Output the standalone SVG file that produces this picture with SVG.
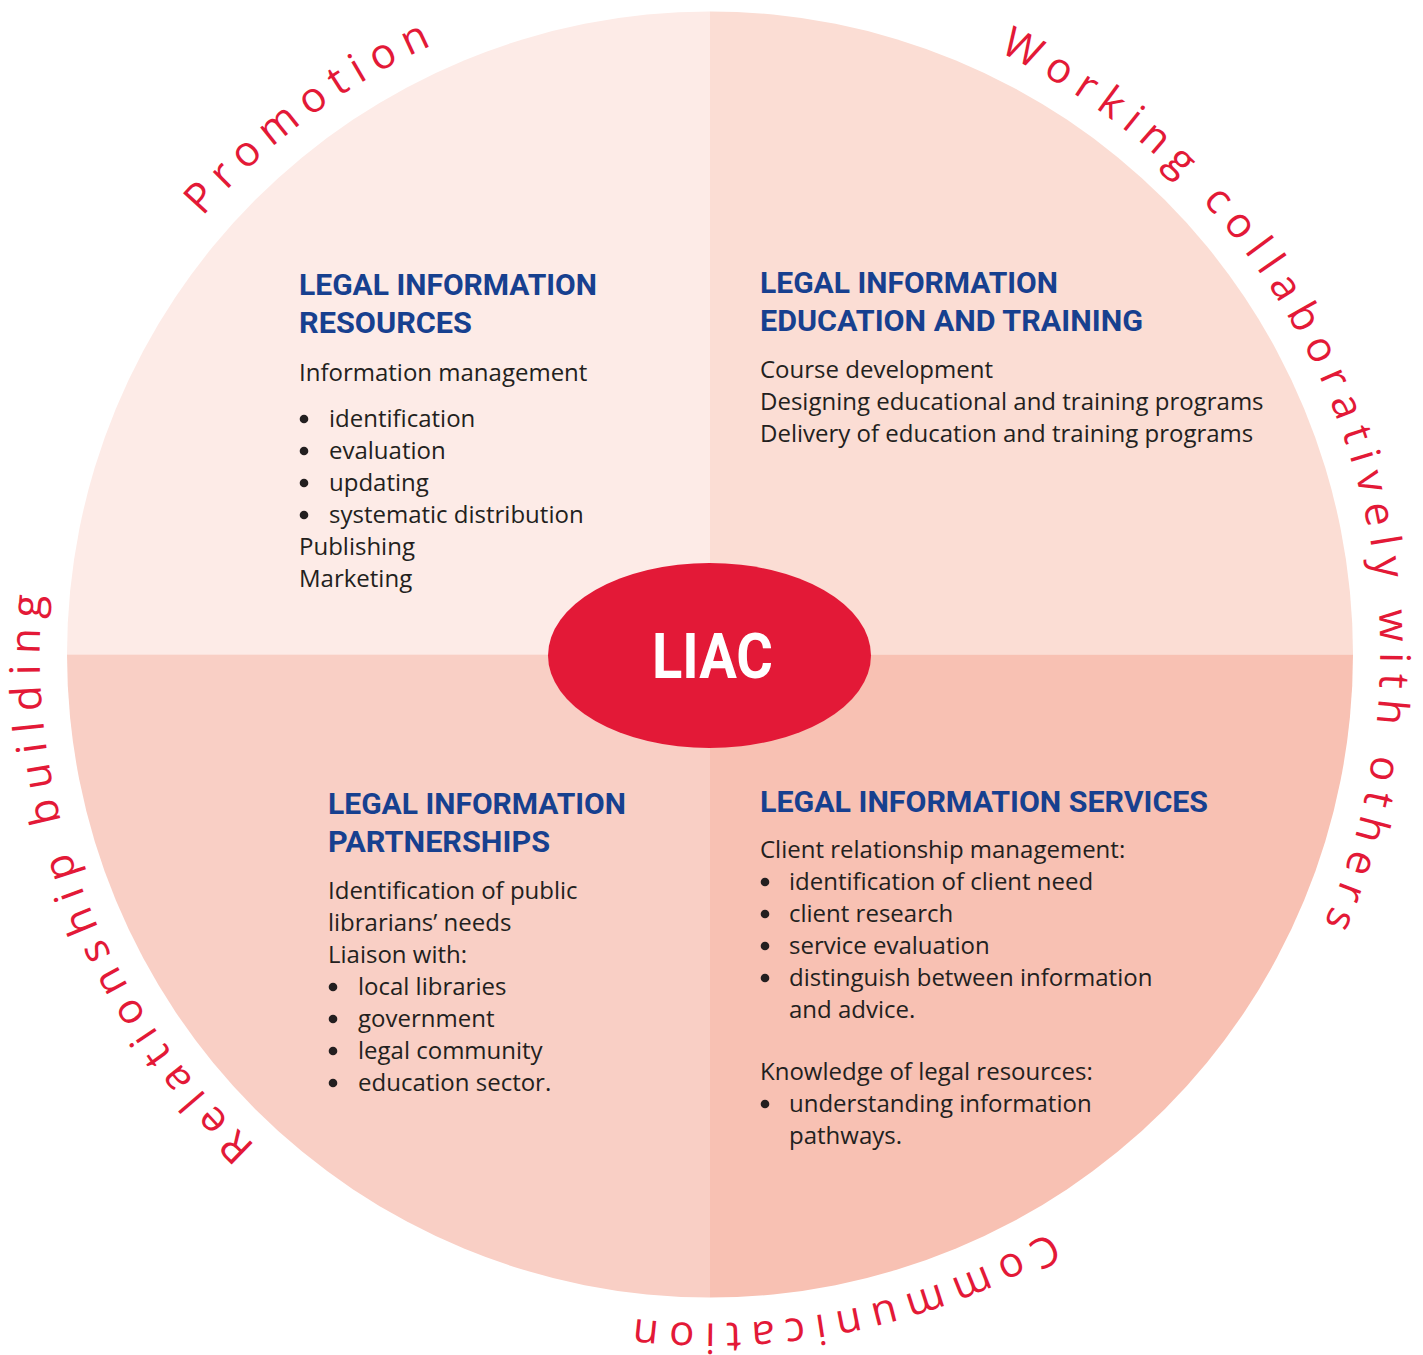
<svg xmlns="http://www.w3.org/2000/svg" width="1423" height="1355" viewBox="0 0 1423 1355">
<style>
.h{font-family:Roboto,"Liberation Sans",sans-serif;font-weight:700;font-size:30px;fill:#17408f}
.b{font-family:"Open Sans","Noto Sans",sans-serif;font-size:24px;fill:#231f20}
.d{fill:#231f20}
.arc{font-family:"Open Sans","Noto Sans",sans-serif;font-size:42px;fill:#e31937;letter-spacing:10px}
</style>
<defs>
<path id="ring" d="M481.53,1282.21 A668,668 0 1 1 938.47,26.79 A668,668 0 1 1 481.53,1282.21"/>
</defs>
<rect width="1423" height="1355" fill="#ffffff"/>
<g id="connectors"/>
<g id="resources">
<path d="M710,654.5 L67,654.5 A643,643 0 0 1 710,11.5 Z" fill="#fdebe7"/>
<text class="h" x="299" y="295" textLength="298" lengthAdjust="spacingAndGlyphs">LEGAL INFORMATION</text>
<text class="h" x="299" y="333" textLength="173" lengthAdjust="spacingAndGlyphs">RESOURCES</text>
<text class="b" x="299" y="381">Information management</text>
<circle class="d" cx="304" cy="419" r="4.3"/><text class="b" x="329" y="427">identification</text>
<circle class="d" cx="304" cy="451" r="4.3"/><text class="b" x="329" y="459">evaluation</text>
<circle class="d" cx="304" cy="483" r="4.3"/><text class="b" x="329" y="491">updating</text>
<circle class="d" cx="304" cy="515" r="4.3"/><text class="b" x="329" y="523">systematic distribution</text>
<text class="b" x="299" y="555">Publishing</text>
<text class="b" x="299" y="587">Marketing</text>
</g>
<g id="education">
<path d="M710,654.5 L710,11.5 A643,643 0 0 1 1353,654.5 Z" fill="#fbddd4"/>
<text class="h" x="760" y="293" textLength="298" lengthAdjust="spacingAndGlyphs">LEGAL INFORMATION</text>
<text class="h" x="760" y="331" textLength="383" lengthAdjust="spacingAndGlyphs">EDUCATION AND TRAINING</text>
<text class="b" x="760" y="378">Course development</text>
<text class="b" x="760" y="410">Designing educational and training programs</text>
<text class="b" x="760" y="442">Delivery of education and training programs</text>
</g>
<g id="services">
<path d="M710,654.5 L1353,654.5 A643,643 0 0 1 710,1297.5 Z" fill="#f8c1b3"/>
<text class="h" x="760" y="812" textLength="448" lengthAdjust="spacingAndGlyphs">LEGAL INFORMATION SERVICES</text>
<text class="b" x="760" y="858">Client relationship management:</text>
<circle class="d" cx="765" cy="882" r="4.3"/><text class="b" x="789" y="890">identification of client need</text>
<circle class="d" cx="765" cy="914" r="4.3"/><text class="b" x="789" y="922">client research</text>
<circle class="d" cx="765" cy="946" r="4.3"/><text class="b" x="789" y="954">service evaluation</text>
<circle class="d" cx="765" cy="978" r="4.3"/><text class="b" x="789" y="986">distinguish between information</text>
<text class="b" x="789" y="1018">and advice.</text>
<text class="b" x="760" y="1080">Knowledge of legal resources:</text>
<circle class="d" cx="765" cy="1104" r="4.3"/><text class="b" x="789" y="1112">understanding information</text>
<text class="b" x="789" y="1144">pathways.</text>
</g>
<g id="partnerships">
<path d="M710,654.5 L710,1297.5 A643,643 0 0 1 67,654.5 Z" fill="#f9cfc5"/>
<text class="h" x="328" y="814" textLength="298" lengthAdjust="spacingAndGlyphs">LEGAL INFORMATION</text>
<text class="h" x="328" y="852" textLength="222" lengthAdjust="spacingAndGlyphs">PARTNERSHIPS</text>
<text class="b" x="328" y="899">Identification of public</text>
<text class="b" x="328" y="931">librarians’ needs</text>
<text class="b" x="328" y="963">Liaison with:</text>
<circle class="d" cx="333" cy="987" r="4.3"/><text class="b" x="358" y="995">local libraries</text>
<circle class="d" cx="333" cy="1019" r="4.3"/><text class="b" x="358" y="1027">government</text>
<circle class="d" cx="333" cy="1051" r="4.3"/><text class="b" x="358" y="1059">legal community</text>
<circle class="d" cx="333" cy="1083" r="4.3"/><text class="b" x="358" y="1091">education sector.</text>
</g>
<g id="liac">
<ellipse cx="709.5" cy="655.5" rx="161.5" ry="92.5" fill="#e31937"/>
<text x="652" y="678" font-family="Roboto,'Liberation Sans',sans-serif" font-weight="700" font-size="63" fill="#ffffff" textLength="121" lengthAdjust="spacingAndGlyphs">LIAC</text>
</g>
<g id="ring-labels">
<text class="arc" text-anchor="middle"><textPath href="#ring" startOffset="576">Relationship building</textPath></text>
<text class="arc" text-anchor="middle"><textPath href="#ring" startOffset="1444">Promotion</textPath></text>
<text class="arc" text-anchor="middle"><textPath href="#ring" startOffset="2688">Working collaboratively with others</textPath></text>
<text class="arc" text-anchor="middle"><textPath href="#ring" startOffset="3838">Communication</textPath></text>
</g>
</svg>
